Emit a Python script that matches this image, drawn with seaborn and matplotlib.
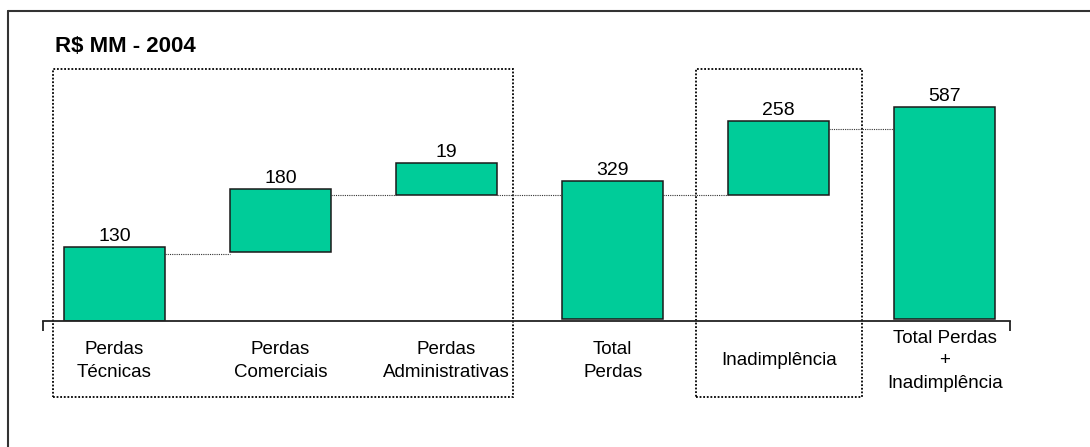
import matplotlib
matplotlib.use("Agg")
import matplotlib.pyplot as plt
import matplotlib.transforms as mtransforms
from matplotlib.patches import Rectangle
from matplotlib.lines import Line2D
import pandas as pd
import seaborn as sns

# ==========================================================
# DATA
# ==========================================================
title = "R$ MM - 2004"
categories = [
    "Perdas\nTécnicas",
    "Perdas\nComerciais",
    "Perdas\nAdministrativas",
    "Total\nPerdas",
    "Inadimplência",
    "Total Perdas\n+\nInadimplência",
]
value_labels = ["130", "180", "19", "329", "258", "587"]

# bar extents as drawn in the picture (baseline = 0)
bar_bottom = [0, 69, 126, 2, 126, 2]
bar_top = [74, 132, 158, 140, 200, 214]

# height of the dotted connector between bar i and bar i+1
connector_level = [67, 126, 126, 126, 192]

# dotted group boxes: (first category, last category)
groups = [(0, 2), (4, 4)]

df = pd.DataFrame({"cat": categories, "bottom": bar_bottom, "top": bar_top})
df["height"] = df["top"] - df["bottom"]

# ==========================================================
# STYLE
# ==========================================================
sns.set_theme(style="white")
plt.rcParams["font.family"] = ["Liberation Sans", "DejaVu Sans"]
plt.rcParams["text.color"] = "black"
plt.rcParams["xtick.labelcolor"] = "black"

W, H = 1090, 447
BAR_W = 0.61
GREEN = "#00CC99"
INK = "#1a1a1a"
XLIM = (-0.4306, 5.393)
YMAX = 251.7

fig = plt.figure(figsize=(W / 100, H / 100), dpi=100)
ax = fig.add_axes([43 / W, (H - 320.7) / H, 967 / W, YMAX / H])

# ==========================================================
# BARS
# ==========================================================
sns.barplot(
    data=df,
    x="cat",
    y="height",
    bottom=df["bottom"].values,
    width=BAR_W,
    color=GREEN,
    saturation=1,
    edgecolor=INK,
    linewidth=1.1,
    errorbar=None,
    ax=ax,
)

for i, (lab, top) in enumerate(zip(value_labels, bar_top)):
    ax.annotate(
        lab,
        (i, top),
        xytext=(0, 1),
        textcoords="offset points",
        ha="center",
        va="bottom",
        fontsize=14,
        color="black",
    )

# dotted connectors
for i, lvl in enumerate(connector_level):
    ax.plot(
        [i + BAR_W / 2, i + 1 - BAR_W / 2],
        [lvl, lvl],
        ls=(0, (1, 1)),
        lw=0.8,
        color="#333333",
    )

# dotted group boxes (reach down over the labels)
trans = mtransforms.blended_transform_factory(ax.transData, ax.transAxes)
box_pads = [(0.37, 0.4), (0.5, 0.5)]
box_low = -0.302
for (a, b), (pl, pr) in zip(groups, box_pads):
    ax.add_patch(Rectangle(
        (a - pl, box_low), (b + pr) - (a - pl), 1 - box_low,
        transform=trans, fill=False, ls=(0, (1, 1)), lw=1.3,
        edgecolor="black", clip_on=False,
    ))

# ==========================================================
# AXES
# ==========================================================
ax.set_xlim(*XLIM)
ax.set_ylim(0, YMAX)
ax.set_xlabel("")
ax.set_ylabel("")
ax.set_yticks([])
for s in ["left", "right", "top"]:
    ax.spines[s].set_visible(False)
ax.spines["bottom"].set_color("#222222")
ax.spines["bottom"].set_linewidth(1.3)

ax.tick_params(axis="x", which="major", length=0, pad=29, labelsize=13.5)
for lbl in ax.get_xticklabels():
    lbl.set_va("center")
    lbl.set_linespacing(1.4)

ax.set_xticks(list(XLIM), minor=True)
ax.tick_params(axis="x", which="minor", bottom=True, length=7.5,
               width=1.3, direction="out", color="#222222")

# frame and title
fig.add_artist(Line2D([7.5 / W, 7.5 / W], [0, 1 - 10.7 / H],
                      transform=fig.transFigure, color="#333333", lw=1.5))
fig.add_artist(Line2D([7.5 / W, 1], [1 - 10.7 / H, 1 - 10.7 / H],
                      transform=fig.transFigure, color="#333333", lw=1.5))
fig.text(55 / W, 1 - 52 / H, title, fontsize=16, fontweight="bold",
         va="baseline", ha="left", color="black")

fig.savefig("out.png", dpi=100)
